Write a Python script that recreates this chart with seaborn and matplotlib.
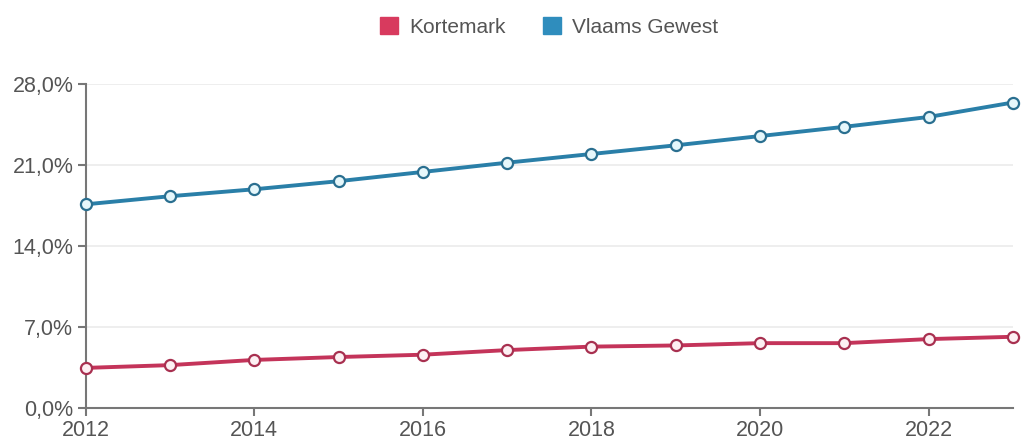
import pandas as pd
import matplotlib.pyplot as plt
import seaborn as sns
from matplotlib.patches import Patch
from matplotlib.ticker import FuncFormatter

years = list(range(2012, 2024))
kortemark = [3.46, 3.7, 4.15, 4.4, 4.6, 5.0, 5.3, 5.4, 5.6, 5.6, 5.95, 6.15]
vlaams_gewest = [17.6, 18.3, 18.9, 19.6, 20.4, 21.2, 21.95, 22.7, 23.5, 24.3, 25.15, 26.4]
series_names = ["Kortemark", "Vlaams Gewest"]

df = pd.DataFrame({
    "jaar": years * 2,
    "waarde": kortemark + vlaams_gewest,
    "reeks": [series_names[0]] * len(years) + [series_names[1]] * len(years),
})

line_colors = {"Kortemark": "#c4345a", "Vlaams Gewest": "#2a7fa8"}
edge_colors = {"Kortemark": "#a83050", "Vlaams Gewest": "#2a6f90"}
legend_colors = {"Kortemark": "#d83a5e", "Vlaams Gewest": "#2f8dbd"}
marker_fill = {"Kortemark": "#fdf0f3", "Vlaams Gewest": "#e6f7fb"}

sns.set_style("white")
plt.rcParams['font.family'] = ['Liberation Sans', 'DejaVu Sans']

fig = plt.figure(figsize=(10.21, 4.41), dpi=100)
ax = fig.add_axes([0.084, 0.075, 0.908, 0.7345])

for name in series_names:
    sub = df[df["reeks"] == name]
    sns.lineplot(data=sub, x="jaar", y="waarde", ax=ax, color=line_colors[name],
                 linewidth=2.8, marker="o", markersize=8,
                 markerfacecolor=marker_fill[name], markeredgecolor=edge_colors[name],
                 markeredgewidth=1.6, clip_on=False, zorder=3)

ax.set_xlim(2012, 2023)
ax.set_ylim(0, 28)
ax.set_yticks([0, 7, 14, 21, 28])
ax.yaxis.set_major_formatter(FuncFormatter(lambda v, p: f"{v:.1f}%".replace(".", ",")))
ax.set_xticks([2012, 2014, 2016, 2018, 2020, 2022])
ax.set_xlabel("")
ax.set_ylabel("")

ax.grid(axis="y", color="#ebebeb", linewidth=1.2)
ax.set_axisbelow(True)
for side in ["top", "right"]:
    ax.spines[side].set_visible(False)
for side in ["left", "bottom"]:
    ax.spines[side].set_color("#777777")
    ax.spines[side].set_linewidth(1.5)
ax.tick_params(axis="both", colors="#777777", labelcolor="#555555", labelsize=15.5,
               length=6, width=1.5, direction="out", bottom=True, left=True, pad=3)

handles = [Patch(facecolor=legend_colors[n], edgecolor=legend_colors[n]) for n in series_names]
leg = fig.legend(handles, series_names, loc="upper center", bbox_to_anchor=(0.538, 1.003),
                 ncol=2, frameon=False, fontsize=15, handlelength=0.87, handleheight=0.87,
                 columnspacing=1.8, handletextpad=0.53)
for t in leg.get_texts():
    t.set_color("#555555")

fig.savefig("out.png", dpi=100)
